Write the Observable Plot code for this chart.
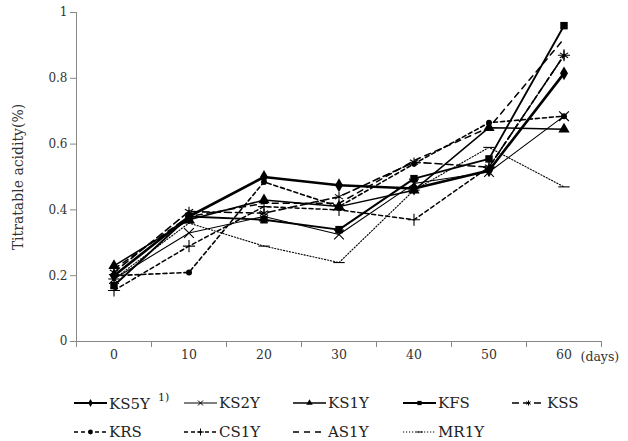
<!DOCTYPE html>
<html><head><meta charset="utf-8">
<script src="https://cdn.jsdelivr.net/npm/d3@7"></script>
<script src="https://cdn.jsdelivr.net/npm/@observablehq/plot@0.6"></script>
<style>
body{margin:0;background:#fff;font-family:"DejaVu Serif",serif}
#chart{position:relative;width:628px;height:441px}
.leg{position:absolute;display:flex;align-items:center;font-size:15px;color:#222;white-space:nowrap}
.leg svg{overflow:visible}
sup{font-size:11px;margin-left:8px;position:relative;top:-2px}
</style></head><body><div id="chart"></div>
<script>
const days = [0, 10, 20, 30, 40, 50, 60];
const yTicks = [0, 0.2, 0.4, 0.6, 0.8, 1];
const seriesNames = ["KS5Y", "KS2Y", "KS1Y", "KFS", "KSS", "KRS", "CS1Y", "AS1Y", "MR1Y"];
const KS5Y = [0.20, 0.38, 0.50, 0.475, 0.465, 0.52, 0.815];
const KS2Y = [0.19, 0.33, 0.38, 0.325, 0.48, 0.515, 0.685];
const KS1Y = [0.23, 0.37, 0.43, 0.41, 0.46, 0.65, 0.645];
const KFS  = [0.17, 0.38, 0.37, 0.34, 0.495, 0.555, 0.96];
const KSS  = [0.21, 0.395, 0.39, 0.44, 0.545, 0.53, 0.87];
const KRS  = [0.20, 0.21, 0.485, 0.41, 0.54, 0.665, 0.685];
const CS1Y = [0.155, 0.29, 0.41, 0.40, 0.37, 0.53, 0.87];
const AS1Y = [0.22, 0.38, 0.42, 0.42, 0.55, 0.65, 0.92];
const MR1Y = [0.19, 0.36, 0.29, 0.24, 0.46, 0.59, 0.47];
const values = {KS5Y, KS2Y, KS1Y, KFS, KSS, KRS, CS1Y, AS1Y, MR1Y};

const hyphen = {draw(ctx, size){ const w = Math.sqrt(size) * 0.8; ctx.moveTo(-w, 0); ctx.lineTo(w, 0); }};
const styles = {
  KS5Y: {sw: 2.6, dash: null, sym: "diamond", fill: "black", r: 4.2},
  KS2Y: {sw: 1.1, dash: null, sym: "times", fill: "none", r: 4.5},
  KS1Y: {sw: 1.5, dash: null, sym: "triangle", fill: "black", r: 4.2},
  KFS:  {sw: 1.9, dash: null, sym: "square", fill: "black", r: 4.2},
  KSS:  {sw: 1.6, dash: "7,4", sym: "asterisk", fill: "none", r: 4.5},
  KRS:  {sw: 1.6, dash: "4,3", sym: "circle", fill: "black", r: 3},
  CS1Y: {sw: 1.5, dash: "4,3", sym: "plus", fill: "none", r: 4},
  AS1Y: {sw: 1.5, dash: "6,5", sym: null},
  MR1Y: {sw: 1.1, dash: "1.2,1.8", sym: hyphen, fill: "none", r: 4}
};

const rows = [];
for (const s of seriesNames) values[s].forEach((v, i) => rows.push({series: s, day: days[i], value: v}));

const marks = [
  Plot.ruleY([0], {stroke: "#888", strokeWidth: 1}),
  Plot.ruleX([-5], {stroke: "#888", strokeWidth: 1}),
  Plot.axisY({ticks: yTicks, tickSize: 6, stroke: "#888", tickFormat: d => d3.format("")(d), fontSize: 12, fill: "#333",
    label: null}),
  Plot.text(["Titratable acidity(%)"], {frameAnchor: "left", textAnchor: "middle", text: d => d, rotate: -90, dx: -58, fontSize: 14, fill: "#333"}),
  Plot.axisX({ticks: d3.range(-5, 66, 10), tickSize: 6, tickFormat: () => "", stroke: "#888", label: null}),
  Plot.axisX({ticks: days, tickSize: 0, tickPadding: 9, fontSize: 12.5, fill: "#333", label: null}),
  Plot.text(["(days)"], {x: 65, y: 0, text: d => d, dx: -21, dy: 15, textAnchor: "start", fontSize: 12.5, fill: "#333"})
];
for (const s of seriesNames) {
  const st = styles[s];
  const data = rows.filter(d => d.series === s);
  marks.push(Plot.line(data, {x: "day", y: "value", stroke: "black", strokeWidth: st.sw, strokeDasharray: st.dash}));
  if (st.sym) marks.push(Plot.dot(data, {x: "day", y: "value", symbol: st.sym, r: st.r, fill: st.fill,
    stroke: st.fill === "none" ? "black" : "none", strokeWidth: 1.1}));
}

const chart = Plot.plot({
  width: 628, height: 370,
  marginLeft: 76, marginRight: 27, marginTop: 12, marginBottom: 29,
  style: {fontFamily: "DejaVu Serif, serif", background: "white"},
  x: {domain: [-5, 65]},
  y: {domain: [0, 1]},
  marks
});
const root = document.getElementById("chart");
root.appendChild(chart);

// legend
const cols = [74, 184, 293, 403, 512];
const rowY = [403, 432];
seriesNames.forEach((s, i) => {
  const st = styles[s];
  const x = cols[i % 5], y = rowY[Math.floor(i / 5)];
  const div = document.createElement("div");
  div.className = "leg";
  div.style.left = x + "px";
  div.style.top = (y - 10) + "px";
  div.style.height = "20px";
  const sw = d3.create("svg").attr("width", 34).attr("height", 20);
  sw.append("line").attr("x1", 0).attr("x2", 33).attr("y1", 10).attr("y2", 10)
    .attr("stroke", "black").attr("stroke-width", Math.min(st.sw, 2.2)).attr("stroke-dasharray", st.dash);
  if (st.sym) {
    const symMap = {diamond: d3.symbolDiamond, times: d3.symbolTimes, triangle: d3.symbolTriangle, square: d3.symbolSquare,
      asterisk: d3.symbolAsterisk, circle: d3.symbolCircle, plus: d3.symbolPlus};
    const type = typeof st.sym === "string" ? symMap[st.sym] : st.sym;
    sw.append("path").attr("transform", "translate(16.5,10)")
      .attr("d", d3.symbol(type, 18)())
      .attr("fill", st.fill === "none" ? "none" : "black")
      .attr("stroke", st.fill === "none" ? "black" : "none").attr("stroke-width", 1);
  }
  div.appendChild(sw.node());
  const t = document.createElement("span");
  t.style.marginLeft = "1px";
  t.innerHTML = s + (s === "KS5Y" ? "<sup>1)</sup>" : "");
  div.appendChild(t);
  root.appendChild(div);
});
</script></body></html>
